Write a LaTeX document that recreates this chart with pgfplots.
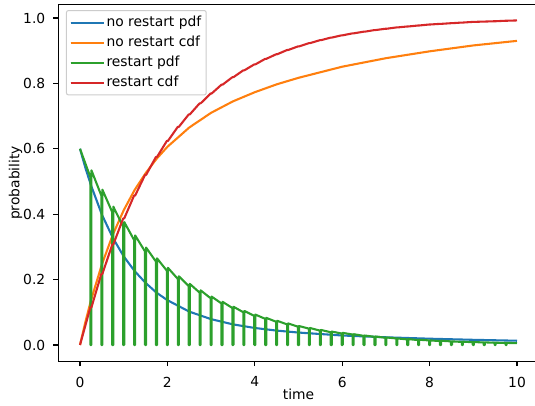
\documentclass[border=0pt]{standalone}
\usepackage{fontspec}
\setmainfont{DejaVu Sans}
\usepackage{pgfplots}
\pgfplotsset{compat=1.18}
\definecolor{tabblue}{HTML}{1F77B4}
\definecolor{taborange}{HTML}{FF7F0E}
\definecolor{tabgreen}{HTML}{2CA02C}
\definecolor{tabred}{HTML}{D62728}
\newcommand{\mplfont}{\fontsize{13.9}{16}\selectfont}
\begin{document}
\begin{tikzpicture}
\begin{axis}[
  scale only axis, width=480.7bp, height=356.5bp,
  xmin=-0.5, xmax=10.5, ymin=-0.0496, ymax=1.0406,
  axis line style={line width=1.1bp},
  xtick={0,2,4,6,8,10}, ytick={0,0.2,0.4,0.6,0.8,1.0},
  tick align=outside, tick pos=left,
  major tick length=4.86bp,
  every tick/.style={black, line width=1.1bp},
  tick label style={font=\mplfont},
  /pgf/number format/assume math mode=true,
  yticklabel style={xshift=-4.5bp, /pgf/number format/.cd, fixed, fixed zerofill, precision=1},
  xticklabel style={yshift=-7.2bp},
  xlabel={time}, ylabel={probability},
  label style={font=\mplfont},
  xlabel style={at={(axis description cs:0.5,-0.1088)}, anchor=base},
  ylabel style={at={(axis description cs:-0.0807,0.5)}, anchor=base},
  legend style={at={(0.0163,0.985)}, anchor=north west, draw=black!20, line width=1bp,
    rounded corners=2bp, fill=white, fill opacity=0.8, text opacity=1, font=\mplfont,
    cells={anchor=west}, inner xsep=3bp, inner ysep=2bp,
    nodes={inner ysep=3.3bp, text height=10.5bp, text depth=3bp}},
  legend image code/.code={\draw[#1, line width=2.08bp] (0bp,0bp) -- (28bp,0bp); \path (0bp,0bp) -- (33bp,0bp);},
  every axis plot/.append style={line width=2.08bp, line join=round},
]
\addplot[tabblue] coordinates {
(0,0.600) (0.125,0.541) (0.25,0.489) (0.5,0.399) (0.75,0.328) (1,0.271) (1.25,0.226)
(1.5,0.190) (1.75,0.160) (2,0.137) (2.5,0.102) (3,0.079) (3.5,0.063) (4,0.052)
(4.5,0.044) (5,0.038) (6,0.029) (7,0.0235) (8,0.0192) (9,0.0158) (10,0.0130)
};
\addlegendentry{no restart pdf}
\addplot[taborange] coordinates {
(0,0) (0.125,0.071) (0.25,0.136) (0.5,0.246) (0.75,0.337) (1,0.412) (1.25,0.474)
(1.5,0.525) (1.75,0.569) (2,0.606) (2.5,0.665) (3,0.710) (3.5,0.745) (4,0.773)
(4.5,0.797) (5,0.817) (6,0.851) (7,0.877) (8,0.898) (9,0.916) (10,0.930)
};
\addlegendentry{no restart cdf}
\addplot[tabgreen] coordinates {
(0,0.600)
(0.238,0.513) (0.238,0) (0.262,0) (0.262,0.534)
(0.488,0.457) (0.488,0) (0.512,0) (0.512,0.475)
(0.738,0.406) (0.738,0) (0.762,0) (0.762,0.423)
(0.988,0.362) (0.988,0) (1.012,0) (1.012,0.376)
(1.238,0.321) (1.238,0) (1.262,0) (1.262,0.335)
(1.488,0.286) (1.488,0) (1.512,0) (1.512,0.298)
(1.738,0.255) (1.738,0) (1.762,0) (1.762,0.265)
(1.988,0.227) (1.988,0) (2.012,0) (2.012,0.236)
(2.238,0.202) (2.238,0) (2.262,0) (2.262,0.210)
(2.488,0.180) (2.488,0) (2.512,0) (2.512,0.187)
(2.738,0.160) (2.738,0) (2.762,0) (2.762,0.167)
(2.988,0.143) (2.988,0) (3.012,0) (3.012,0.148)
(3.238,0.127) (3.238,0) (3.262,0) (3.262,0.132)
(3.488,0.113) (3.488,0) (3.512,0) (3.512,0.117)
(3.738,0.100) (3.738,0) (3.762,0) (3.762,0.104)
(3.988,0.089) (3.988,0) (4.012,0) (4.012,0.093)
(4.238,0.080) (4.238,0) (4.262,0) (4.262,0.083)
(4.488,0.071) (4.488,0) (4.512,0) (4.512,0.074)
(4.738,0.063) (4.738,0) (4.762,0) (4.762,0.066)
(4.988,0.056) (4.988,0) (5.012,0) (5.012,0.058)
(5.238,0.050) (5.238,0) (5.262,0) (5.262,0.052)
(5.488,0.044) (5.488,0) (5.512,0) (5.512,0.046)
(5.738,0.039) (5.738,0) (5.762,0) (5.762,0.041)
(5.988,0.035) (5.988,0) (6.012,0) (6.012,0.037)
(6.238,0.032) (6.238,0) (6.262,0) (6.262,0.033)
(6.488,0.028) (6.488,0) (6.512,0) (6.512,0.029)
(6.738,0.025) (6.738,0) (6.762,0) (6.762,0.026)
(6.988,0.022) (6.988,0) (7.012,0) (7.012,0.023)
(7.238,0.020) (7.238,0) (7.262,0) (7.262,0.020)
(7.488,0.017) (7.488,0) (7.512,0) (7.512,0.018)
(7.738,0.015) (7.738,0) (7.762,0) (7.762,0.016)
(7.988,0.014) (7.988,0) (8.012,0) (8.012,0.014)
(8.238,0.012) (8.238,0) (8.262,0) (8.262,0.013)
(8.488,0.011) (8.488,0) (8.512,0) (8.512,0.011)
(8.738,0.0094) (8.738,0) (8.762,0) (8.762,0.010)
(8.988,0.0086) (8.988,0) (9.012,0) (9.012,0.009)
(9.238,0.0077) (9.238,0) (9.262,0) (9.262,0.008)
(9.488,0.0068) (9.488,0) (9.512,0) (9.512,0.007)
(9.738,0.0060) (9.738,0) (9.762,0) (9.762,0.0064)
(10.00,0.0055)
};
\addlegendentry{restart pdf}
\addplot[tabred] coordinates {
(0,0)
(0.238,0.115) (0.262,0.115) (0.488,0.217) (0.512,0.217) (0.738,0.307) (0.762,0.307)
(0.988,0.387) (1.012,0.387) (1.238,0.457) (1.262,0.457) (1.488,0.520) (1.512,0.520)
(1.738,0.575) (1.762,0.575) (1.988,0.624) (2.012,0.624) (2.238,0.667) (2.262,0.667)
(2.488,0.705) (2.512,0.705) (2.738,0.739) (2.762,0.739) (2.988,0.769) (3.012,0.769)
(3.238,0.796) (3.262,0.796) (3.488,0.819) (3.512,0.819) (3.738,0.840) (3.762,0.840)
(3.988,0.858) (4.012,0.858) (4.238,0.875) (4.262,0.875) (4.488,0.889) (4.512,0.889)
(4.738,0.902) (4.762,0.902) (4.988,0.913) (5.012,0.913) (5.238,0.923) (5.262,0.923)
(5.488,0.932) (5.512,0.932) (5.738,0.940) (5.762,0.940) (5.988,0.947) (6.012,0.947)
(6.238,0.953) (6.262,0.953) (6.488,0.958) (6.512,0.958) (6.738,0.963) (6.762,0.963)
(6.988,0.967) (7.012,0.967) (7.238,0.971) (7.262,0.971) (7.488,0.974) (7.512,0.974)
(7.738,0.977) (7.762,0.977) (7.988,0.980) (8.012,0.980) (8.238,0.982) (8.262,0.982)
(8.488,0.984) (8.512,0.984) (8.738,0.986) (8.762,0.986) (8.988,0.988) (9.012,0.988)
(9.238,0.989) (9.262,0.989) (9.488,0.990) (9.512,0.990) (9.738,0.9915) (9.762,0.9915)
(10.00,0.9925)
};
\addlegendentry{restart cdf}
\end{axis}
\pgfresetboundingbox
\path[use as bounding box] ([xshift=-58.15bp,yshift=-44.8bp]current axis.south west) rectangle ([xshift=-3.85bp,yshift=4.7bp]current axis.north east);
\end{tikzpicture}
\end{document}
